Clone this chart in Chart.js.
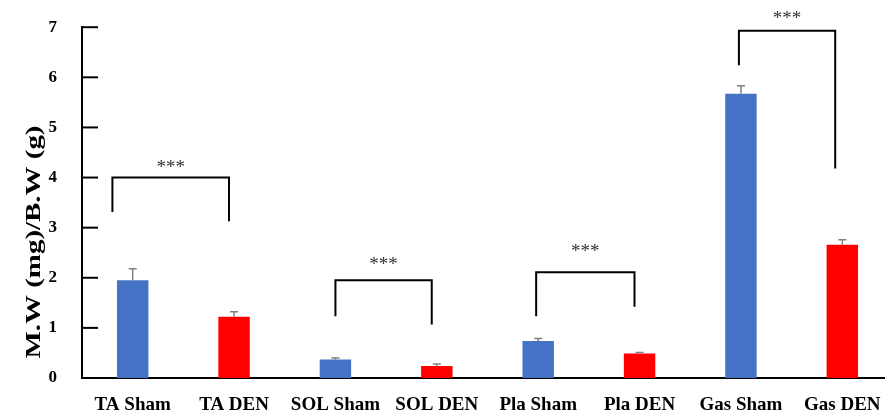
<!DOCTYPE html>
<html>
<head>
<meta charset="utf-8">
<script src="https://cdn.jsdelivr.net/npm/chart.js@4/dist/chart.umd.min.js"></script>
<style>
  html, body { margin: 0; padding: 0; background: #fff; overflow: hidden; }
  #wrap { width: 893px; height: 412px; }
</style>
</head>
<body>
<div id="wrap"><canvas id="muscleChart" width="893" height="412"></canvas></div>
<script>
// Muscle weight / body weight per group
const groups = ['TA Sham', 'TA DEN', 'SOL Sham', 'SOL DEN', 'Pla Sham', 'Pla DEN', 'Gas Sham', 'Gas DEN'];
const ratios = [1.95, 1.22, 0.37, 0.24, 0.74, 0.49, 5.67, 2.66];
const errors = [0.23, 0.10, 0.03, 0.04, 0.05, 0.02, 0.16, 0.10];
const barColors = ['#4472C4', '#FF0000', '#4472C4', '#FF0000', '#4472C4', '#FF0000', '#4472C4', '#FF0000'];
const yTicks = [0, 1, 2, 3, 4, 5, 6, 7];

// Significance brackets (x in category units, y in data units)
const bracketLeft = [-0.2, 2.0, 3.98, 5.98];
const bracketRight = [0.95, 2.95, 4.95, 6.93];
const bracketTop = [4.0, 1.95, 2.11, 6.93];
const bracketLeftEnd = [3.31, 1.23, 1.23, 6.24];
const bracketRightEnd = [3.13, 1.07, 1.42, 4.18];
const starsAt = [4.27, 2.33, 2.60, 7.25];
const starLabel = '***';

const serif = "'Liberation Serif', 'Times New Roman', serif";

// Error bars, inward ticks, brackets and axis title
const extras = {
    id: 'extras',
    afterDatasetsDraw(chart) {
        const ctx = chart.ctx;
        const xs = chart.scales.x;
        const ys = chart.scales.y;
        const area = chart.chartArea;
        const meta = chart.getDatasetMeta(0);

        ctx.save();

        // error bars
        ctx.strokeStyle = '#808080';
        ctx.lineWidth = 1.5;
        meta.data.forEach((bar, i) => {
            const top = ys.getPixelForValue(ratios[i] + errors[i]);
            const base = ys.getPixelForValue(ratios[i]);
            ctx.beginPath();
            ctx.moveTo(bar.x, base);
            ctx.lineTo(bar.x, top);
            ctx.moveTo(bar.x - 4, top);
            ctx.lineTo(bar.x + 4, top);
            ctx.stroke();
        });

        // inward y tick marks
        ctx.strokeStyle = '#000';
        ctx.lineWidth = 2;
        yTicks.forEach(v => {
            const py = ys.getPixelForValue(v);
            ctx.beginPath();
            ctx.moveTo(area.left, py);
            ctx.lineTo(area.left + 16, py);
            ctx.stroke();
        });

        // brackets
        for (let i = 0; i < bracketLeft.length; i++) {
            const xl = xs.getPixelForValue(bracketLeft[i]);
            const xr = xs.getPixelForValue(bracketRight[i]);
            const yt = ys.getPixelForValue(bracketTop[i]);
            ctx.beginPath();
            ctx.moveTo(xl, ys.getPixelForValue(bracketLeftEnd[i]));
            ctx.lineTo(xl, yt);
            ctx.lineTo(xr, yt);
            ctx.lineTo(xr, ys.getPixelForValue(bracketRightEnd[i]));
            ctx.stroke();

            ctx.fillStyle = '#333';
            ctx.font = '19px ' + serif;
            ctx.textAlign = 'center';
            ctx.textBaseline = 'middle';
            ctx.fillText(starLabel, (xl + xr) / 2, ys.getPixelForValue(starsAt[i]) + 4);
        }

        // y axis title (stretched to match the reference)
        const title = 'M.W (mg)/B.W (g)';
        ctx.translate(35, 242);
        ctx.rotate(-Math.PI / 2);
        ctx.font = 'bold 21px ' + serif;
        const w = ctx.measureText(title).width;
        ctx.scale(233 / w, 1);
        ctx.fillStyle = '#000';
        ctx.textAlign = 'center';
        ctx.textBaseline = 'middle';
        ctx.fillText(title, 0, 0);

        ctx.restore();
    }
};

new Chart(document.getElementById('muscleChart'), {
    type: 'bar',
    data: {
        labels: groups,
        datasets: [{
            data: ratios,
            backgroundColor: barColors,
            barPercentage: 0.31,
            categoryPercentage: 1.0
        }]
    },
    options: {
        responsive: false,
        animation: false,
        layout: { padding: { top: 26, left: 0, right: 0, bottom: 0 } },
        plugins: {
            legend: { display: false },
            tooltip: { enabled: false }
        },
        scales: {
            x: {
                grid: { display: false },
                border: { display: true, color: '#000', width: 2 },
                ticks: {
                    color: '#000',
                    padding: 8,
                    maxRotation: 0,
                    autoSkip: false,
                    font: { family: serif, size: 19, weight: 'bold' }
                },
                afterFit(scale) { scale.height = 34; }
            },
            y: {
                min: 0,
                max: 7,
                grid: { display: false },
                border: { display: true, color: '#000', width: 2 },
                ticks: {
                    stepSize: 1,
                    color: '#000',
                    padding: 17,
                    font: { family: serif, size: 17, weight: 'bold' }
                },
                afterFit(scale) { scale.width = 82; }
            }
        }
    },
    plugins: [extras]
});
</script>
</body>
</html>
